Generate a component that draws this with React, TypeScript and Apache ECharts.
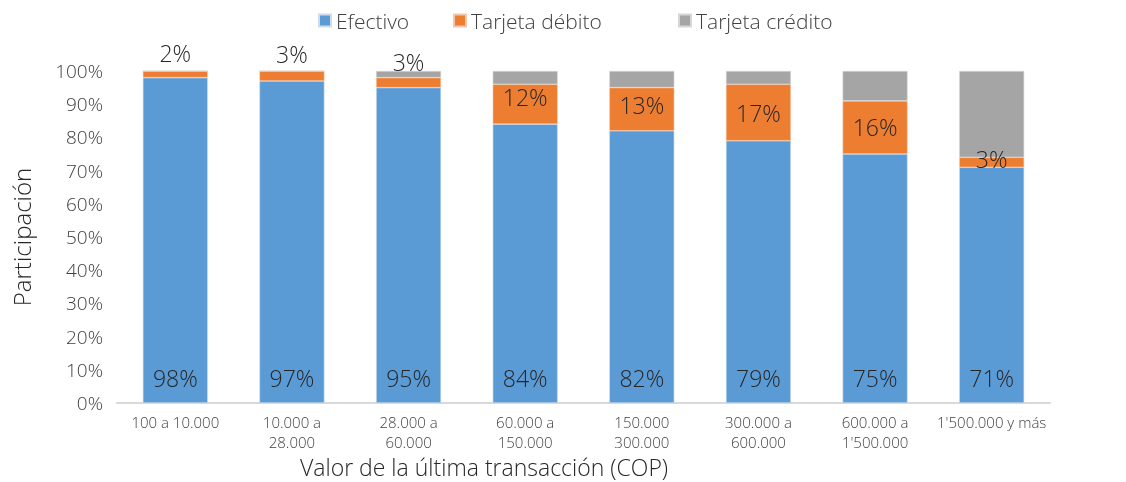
import React, { useEffect, useRef } from "react";
import * as echarts from "echarts";

const categories = [
  "100 a 10.000",
  "10.000 a\n28.000",
  "28.000 a\n60.000",
  "60.000 a\n150.000",
  "150.000\n300.000",
  "300.000 a\n600.000",
  "600.000 a\n1'500.000",
  "1'500.000 y más",
];
const efectivo = [98, 97, 95, 84, 82, 79, 75, 71];
const debito = [2, 3, 3, 12, 13, 17, 16, 3];
const credito = [0, 0, 2, 4, 5, 4, 9, 26];
const yTicks = [0, 10, 20, 30, 40, 50, 60, 70, 80, 90, 100];
const seriesNames = ["Efectivo", "Tarjeta débito", "Tarjeta crédito"];

const FONT = "'Open Sans', Lato, sans-serif";
const W = 300;

export default function App() {
  const ref = useRef<HTMLDivElement>(null);
  useEffect(() => {
    if (!ref.current) return;
    const chart = echarts.init(ref.current, null, { renderer: "svg" });
    const labelStyle = { fontFamily: FONT, fontWeight: W, fontSize: 23, color: "#262626" };
    const legendLefts = [318, 453, 678];
    const debitoLabel = [
      { position: "top", distance: 7 },
      { position: "top", distance: 6 },
      { position: "top", distance: 4 },
      { offset: [0, -7] },
      { offset: [0, -4] },
      {},
      {},
      { offset: [0, -3] },
    ];
    chart.setOption({
      animation: false,
      textStyle: { fontFamily: FONT, fontWeight: W },
      legend: seriesNames.map((n, i) => ({
        top: 10,
        left: legendLefts[i],
        padding: 0,
        itemWidth: 12,
        itemHeight: 12,
        icon: "rect",
        textStyle: { fontFamily: FONT, fontWeight: W, fontSize: 21, color: "#404040" },
        data: [n],
      })),
      grid: { left: 117, right: 76, top: 71, bottom: 79, containLabel: false },
      xAxis: {
        type: "category",
        data: categories,
        axisLine: { lineStyle: { color: "#D9D9D9", width: 2 } },
        axisTick: { show: false },
        axisLabel: {
          interval: 0,
          fontFamily: FONT,
          fontWeight: W,
          fontSize: 15,
          color: "#404040",
          lineHeight: 20,
          margin: 9,
        },
      },
      yAxis: {
        type: "value",
        min: 0,
        max: 100,
        interval: 10,
        splitLine: { show: false },
        axisLine: { show: false },
        axisTick: { show: false },
        axisLabel: {
          fontFamily: FONT,
          fontWeight: W,
          fontSize: 19,
          color: "#404040",
          margin: 14,
          formatter: (v: number) => (yTicks.includes(v) ? v + "%" : ""),
        },
        name: "Participación",
        nameLocation: "middle",
        nameGap: 84,
        nameTextStyle: { fontFamily: FONT, fontWeight: W, fontSize: 24, color: "#262626" },
      },
      graphic: [
        {
          type: "text",
          x: 300,
          y: 467,
          style: {
            text: "Valor de la última transacción (COP)",
            fontFamily: FONT,
            fontWeight: W,
            fontSize: 23,
            lineHeight: 22,
            verticalAlign: "middle",
            align: "left",
            fill: "#262626",
          },
        },
      ],
      series: [
        {
          name: "Efectivo",
          type: "bar",
          stack: "total",
          barWidth: 65,
          data: efectivo,
          itemStyle: { color: "#5B9BD5", borderColor: "#D0DCEB", borderWidth: 0.6 },
          label: {
            show: true,
            position: "insideBottom",
            distance: 14,
            formatter: "{c}%",
            ...labelStyle,
          },
        },
        {
          name: "Tarjeta débito",
          type: "bar",
          stack: "total",
          barWidth: 65,
          data: debito.map((v, i) => ({ value: v, label: debitoLabel[i] })),
          itemStyle: { color: "#ED7D31", borderColor: "#F2C8AC", borderWidth: 0.6 },
          label: {
            show: true,
            position: "inside",
            formatter: "{c}%",
            ...labelStyle,
          },
        },
        {
          name: "Tarjeta crédito",
          type: "bar",
          stack: "total",
          barWidth: 65,
          data: credito,
          itemStyle: { color: "#A5A5A5", borderColor: "#D6D6D6", borderWidth: 0.6 },
          label: { show: false },
        },
      ],
    });
    return () => chart.dispose();
  }, []);
  return (
    <div
      ref={ref}
      style={{ position: "fixed", left: 0, top: 0, width: 1126, height: 482 }}
    />
  );
}
